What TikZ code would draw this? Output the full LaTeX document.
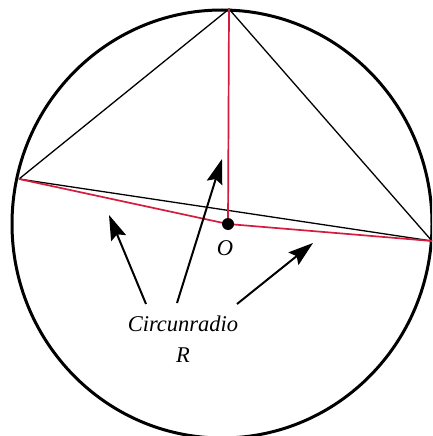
\documentclass[tikz,border=0pt]{standalone}
\usepackage{fontspec}
\setmainfont{Liberation Serif}
\usetikzlibrary{arrows.meta}
\definecolor{rl}{RGB}{214,28,62}
\tikzset{
  circ/.style={line width=3pt, black},
  tri/.style={line width=1.3pt, black},
  rad/.style={line width=1.7pt, rl},
  ptr/.style={line width=2pt, black, -{Stealth[length=25pt,width=16pt,inset=4pt]}},
  lbl/.style={font=\fontsize{22.5}{26}\selectfont\itshape, inner sep=0pt}
}
\begin{document}
\begin{tikzpicture}[x=1pt,y=-1pt]
\useasboundingbox (0,0) rectangle (432,436);
\clip (0,0) rectangle (432,436);
\fill[white] (0,0) rectangle (432,436);
\draw[circ] (222,224) ellipse [x radius=210, y radius=214];
\coordinate (A) at (229,9);
\coordinate (B) at (19,179);
\coordinate (C) at (432,241);
\coordinate (O) at (228,224);
\draw[tri] (B) -- (A) -- (C) -- (B);
\draw[rad] (A) -- (O);
\draw[rad] (B) -- (O) -- (C);
\fill[black] (O) circle (6);
\node[lbl] (olab) at (225,248) {O};
\node[lbl] (txt) at (183,324) {Circunradio};
\node[lbl] (rlab) at (183,355) {R};
\coordinate (s1) at (146,304);
\coordinate (s2) at (177,303);
\coordinate (s3) at (237,304);
\coordinate (t1) at (109,215);
\coordinate (t2) at (222,159);
\coordinate (t3) at (313,243);
\draw[ptr] (s1) -- (t1);
\draw[ptr] (s2) -- (t2);
\draw[ptr] (s3) -- (t3);
\end{tikzpicture}
\end{document}
